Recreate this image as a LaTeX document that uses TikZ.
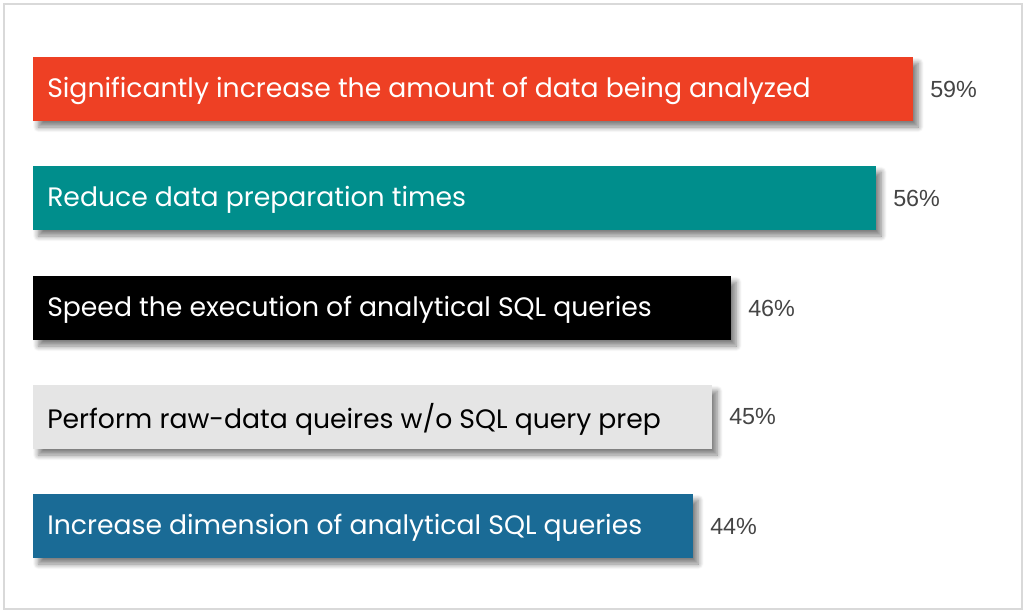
\documentclass[tikz,border=0pt]{standalone}
\usepackage{fontspec}
\setmainfont{Poppins}
\newfontfamily\pctfont{Liberation Sans}
\usetikzlibrary{shadows.blur}
\definecolor{cRed}{HTML}{EE4024}
\definecolor{cTeal}{HTML}{008E8C}
\definecolor{cGray}{HTML}{E5E5E5}
\definecolor{cBlue}{HTML}{1A6B96}
\definecolor{cPct}{HTML}{444444}
\definecolor{cFrame}{HTML}{D9D9D9}
\begin{document}
\begin{tikzpicture}[x=0.75pt,y=-0.75pt,
  bar/.style={anchor=north west, minimum height=48pt, inner sep=0pt, outer sep=0pt,
    blur shadow={shadow xshift=4pt, shadow yshift=-4.5pt, shadow blur steps=8, shadow blur radius=4pt, shadow opacity=50}},
  lbl/.style={anchor=west, inner sep=0pt, font=\fontsize{20}{23}\selectfont},
  pct/.style={anchor=west, inner sep=0pt, text=cPct, font=\pctfont\fontsize{17.5}{21}\selectfont}]
\useasboundingbox (0,0) rectangle (1025,611);
\draw[cFrame, line width=1.5pt] (4,4) rectangle (1022,609);
% bars
\node[bar, fill=cRed, minimum width=660pt] (b1) at (33,57) {};
\node[bar, fill=cTeal, minimum width=632.25pt] (b2) at (33,166) {};
\node[bar, fill=black, minimum width=523.5pt] (b3) at (33,276) {};
\node[bar, fill=cGray, minimum width=509.25pt] (b4) at (33,385) {};
\node[bar, fill=cBlue, minimum width=495pt] (b5) at (33,494) {};
% labels
\node[lbl, text=white] (l1) at ([xshift=10.5pt,yshift=-1.5pt]b1.west) {Significantly increase the amount of data being analyzed};
\node[lbl, text=white] (l2) at ([xshift=10.5pt,yshift=-1.5pt]b2.west) {Reduce data preparation times};
\node[lbl, text=white] (l3) at ([xshift=10.5pt,yshift=-1.5pt]b3.west) {Speed the execution of analytical SQL queries};
\node[lbl, text=black] (l4) at ([xshift=10.5pt,yshift=-1.5pt]b4.west) {Perform raw-data queires w/o SQL query prep};
\node[lbl, text=white] (l5) at ([xshift=10.5pt,yshift=-1.5pt]b5.west) {Increase dimension of analytical SQL queries};
% percentages
\node[pct] (p1) at ([xshift=12.75pt]b1.east) {59\%};
\node[pct] (p2) at ([xshift=12.75pt]b2.east) {56\%};
\node[pct] (p3) at ([xshift=12.75pt]b3.east) {46\%};
\node[pct] (p4) at ([xshift=12.75pt]b4.east) {45\%};
\node[pct] (p5) at ([xshift=12.75pt]b5.east) {44\%};
\end{tikzpicture}
\end{document}
